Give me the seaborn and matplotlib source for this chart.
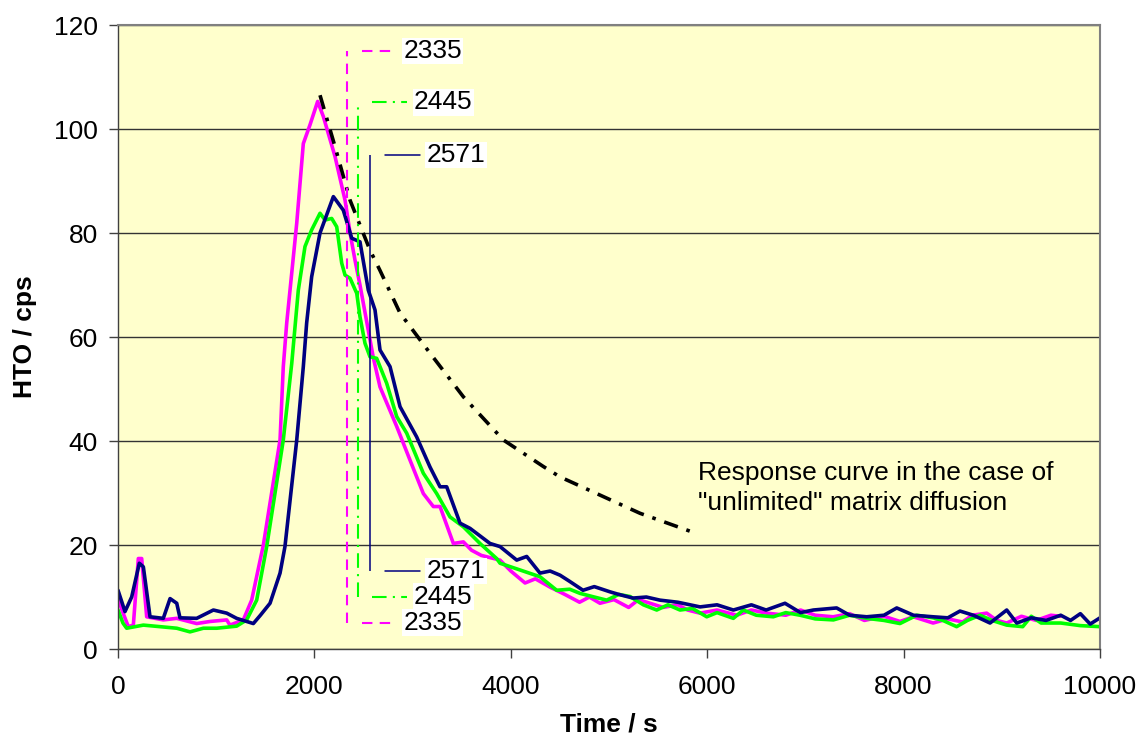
import matplotlib.pyplot as plt
import seaborn as sns
import pandas as pd

# HTO breakthrough curves (time in s, count rate in cps)
t_magenta = [0, 50, 105, 156, 207, 241, 292, 461, 598, 801, 937, 1107, 1140, 1276,
             1361, 1480, 1650, 1683, 1718, 1820, 1887, 1955, 2033, 2091, 2210, 2312,
             2363, 2413, 2464, 2532, 2600, 2668, 2838, 2974, 3109, 3211, 3279, 3415,
             3517, 3600, 3700, 3890, 4000, 4145, 4250, 4400, 4550, 4700, 4800, 4908,
             5050, 5200, 5300, 5418, 5550, 5700, 5800, 5927, 6100, 6300, 6450, 6606,
             6800, 6950, 7100, 7283, 7450, 7600, 7800, 7963, 8100, 8300, 8450, 8600,
             8700, 8846, 8950, 9050, 9200, 9350, 9500, 9593]
hto_magenta = [9.7, 7, 4.3, 4.6, 17.4, 17.4, 6.2, 5.6, 5.9, 4.9, 5.3, 5.6, 4.6, 5.6,
               9.4, 20, 40.2, 54.3, 62.7, 81.9, 97.2, 100.8, 105.3, 102.4, 94.7, 86.3,
               80, 74.8, 70, 63, 56, 50.4, 42.8, 36.3, 29.9, 27.4, 27.4, 20.3,
               20.6, 19, 18, 17.1, 15, 12.7, 13.5, 11.9, 10.5, 9, 10, 8.8,
               9.5, 8, 9.5, 8.8, 8, 8.5, 7.5, 6.9, 7.5, 6.5, 7.5, 6.9,
               6.5, 7.5, 6.5, 6.2, 6.8, 5.5, 6.3, 5.3, 6.2, 5, 5.8, 5.2,
               6.5, 6.9, 5.5, 5, 6.3, 5.5, 6.5, 6.3]

t_green = [0, 50, 88, 258, 428, 598, 733, 869, 1005, 1208, 1310, 1412, 1514, 1683,
           1769, 1836, 1904, 1972, 2057, 2108, 2176, 2227, 2278, 2312, 2363, 2431,
           2464, 2515, 2566, 2634, 2736, 2838, 2940, 3109, 3245, 3381, 3517, 3686,
           3856, 3890, 4094, 4297, 4467, 4600, 4705, 4850, 4976, 5100, 5214, 5350,
           5486, 5600, 5723, 5850, 5995, 6100, 6266, 6368, 6500, 6673, 6800, 6945,
           7100, 7285, 7450, 7624, 7800, 7963, 8133, 8300, 8400, 8540, 8650, 8778,
           8900, 9050, 9213, 9300, 9400, 9600, 9800, 10000]
hto_green = [7.5, 5, 4, 4.6, 4.3, 4, 3.3, 4, 4, 4.4, 5.6, 9.4, 19.7, 40.2,
             54.9, 69, 77.4, 80.6, 83.8, 82.5, 82.8, 81.2, 74.2, 71.9, 71.3, 68.4,
             63.9, 58.8, 56.2, 55.9, 51.1, 44.7, 41.5, 33.8, 29.9, 25.4, 23.5, 20.3,
             17.4, 16.5, 15.2, 13.9, 11.3, 11.5, 10.7, 10, 9.4, 10.5, 10.1, 8.5,
             7.5, 8.5, 7.5, 7.8, 6.2, 7, 5.9, 7.5, 6.5, 6.2, 7, 6.5,
             5.8, 5.6, 6.5, 5.9, 5.5, 4.9, 6.5, 6, 5.5, 4.3, 5.5, 6.5,
             5.5, 4.6, 4.3, 6.3, 5, 5, 4.5, 4.3]

t_navy = [0, 71, 139, 217, 258, 326, 461, 530, 598, 631, 801, 971, 1107, 1208,
          1378, 1450, 1548, 1650, 1700, 1820, 1887, 1921, 1972, 2057, 2193, 2294,
          2380, 2464, 2549, 2617, 2668, 2770, 2872, 3041, 3177, 3279, 3347, 3483,
          3585, 3788, 3890, 4060, 4162, 4297, 4400, 4501, 4600, 4735, 4850, 5010,
          5100, 5244, 5380, 5519, 5700, 5927, 6100, 6266, 6450, 6600, 6792, 6950,
          7080, 7318, 7450, 7624, 7800, 7930, 8100, 8300, 8450, 8574, 8710, 8880,
          9050, 9152, 9300, 9450, 9600, 9700, 9800, 9900, 10000]
hto_navy = [11.3, 7.2, 10, 16.5, 15.8, 6.2, 5.9, 9.7, 8.8, 6, 5.9, 7.5, 6.9, 5.9,
            4.9, 6.5, 8.8, 14.6, 19.7, 40.2, 54.3, 62.7, 71.6, 80, 87, 84.4,
            79, 78.3, 69, 65.2, 57.5, 54.3, 46.6, 40.8, 35, 31.2, 31.2, 24.2,
            23.2, 20.3, 19.7, 17.1, 17.8, 14.6, 15, 14.2, 13, 11.3, 12, 11,
            10.5, 9.8, 10, 9.4, 9, 8.1, 8.5, 7.5, 8.5, 7.5, 8.8, 7,
            7.5, 7.9, 6.5, 6.2, 6.5, 7.9, 6.5, 6.2, 6, 7.3, 6.5, 5,
            7.5, 5, 6, 5.5, 6.5, 5.5, 6.8, 4.8, 6]

# response curve for "unlimited" matrix diffusion
t_model = [2057, 2210, 2363, 2566, 2668, 2872, 3177, 3517, 3924, 4331, 4501, 5316, 5893]
hto_model = [106.5, 96.6, 86.3, 76.7, 72.8, 64.6, 56.9, 48.5, 40.2, 35.1, 33.1, 26.1, 22.2]

# marked times with the span of each marker line
mark_times = [2335, 2445, 2571]
mark_low = [5.1, 10.1, 15]
mark_high = [115, 105.1, 95]
mark_labels = ["2335", "2445", "2571"]

sns.set_style("ticks", {"axes.facecolor": "#FFFFCC"})
plt.rcParams["font.family"] = ["Liberation Sans", "DejaVu Sans"]
plt.rcParams.update({"text.color": "black", "axes.labelcolor": "black",
                     "xtick.labelcolor": "black", "ytick.labelcolor": "black"})

fig, ax = plt.subplots(figsize=(11.48, 7.42), dpi=100)
fig.subplots_adjust(left=0.1028, right=0.9582, top=0.9663, bottom=0.1253)

ax.yaxis.grid(True, color="#333333", linewidth=1)
ax.set_axisbelow(True)

curves = [
    (t_magenta, hto_magenta, "#FF00FF"),
    (t_green, hto_green, "#00FF00"),
    (t_navy, hto_navy, "#000080"),
]
for t, y, color in curves:
    df = pd.DataFrame({"t": t, "y": y})
    sns.lineplot(data=df, x="t", y="y", ax=ax, color=color, linewidth=2.6,
                 errorbar=None)

df_model = pd.DataFrame({"t": t_model, "y": hto_model})
sns.lineplot(data=df_model, x="t", y="y", ax=ax, color="black", linewidth=2.6,
             linestyle=(0, (4, 2.5, 1, 2.5)), errorbar=None)

mark_styles = [
    ("#FF00FF", (0, (5, 3.5)), 1.5),
    ("#00FF00", (0, (7, 3, 1, 3)), 1.5),
    ("#000080", "-", 1.1),
]
for xm, lo, hi, lab, (color, ls, lw) in zip(mark_times, mark_low, mark_high,
                                            mark_labels, mark_styles):
    ax.vlines(xm, lo, hi, colors=color, linestyles=ls, linewidth=lw)
    for yy in (lo, hi):
        ax.plot([xm + 145, xm + 500], [yy, yy], color=color, linestyle=ls,
                linewidth=lw)
        ax.text(xm + 570, yy, lab, fontsize=19, va="center", ha="left",
                bbox=dict(facecolor="white", edgecolor="none", pad=1))

ax.text(5906, 31, "Response curve in the case of\n\"unlimited\" matrix diffusion",
        fontsize=19, va="center", ha="left", linespacing=1.3)

ax.set_xlim(0, 10000)
ax.set_ylim(0, 120)
ax.set_xticks(range(0, 10001, 2000))
ax.set_yticks(range(0, 121, 20))
ax.tick_params(axis="both", direction="out", length=6.5, width=1,
               color="#404040", labelsize=19)
ax.tick_params(axis="x", pad=12)
ax.tick_params(axis="y", pad=8)

ax.set_xlabel("Time / s", fontsize=19, fontweight="bold", labelpad=10)
ax.set_ylabel("HTO / cps", fontsize=19, fontweight="bold", labelpad=12)

for side in ("top", "right"):
    ax.spines[side].set_visible(True)
    ax.spines[side].set_color("#808080")
    ax.spines[side].set_linewidth(1.5)
for side in ("left", "bottom"):
    ax.spines[side].set_color("#404040")
    ax.spines[side].set_linewidth(1)

plt.savefig("out.png", dpi=100)
plt.close()
